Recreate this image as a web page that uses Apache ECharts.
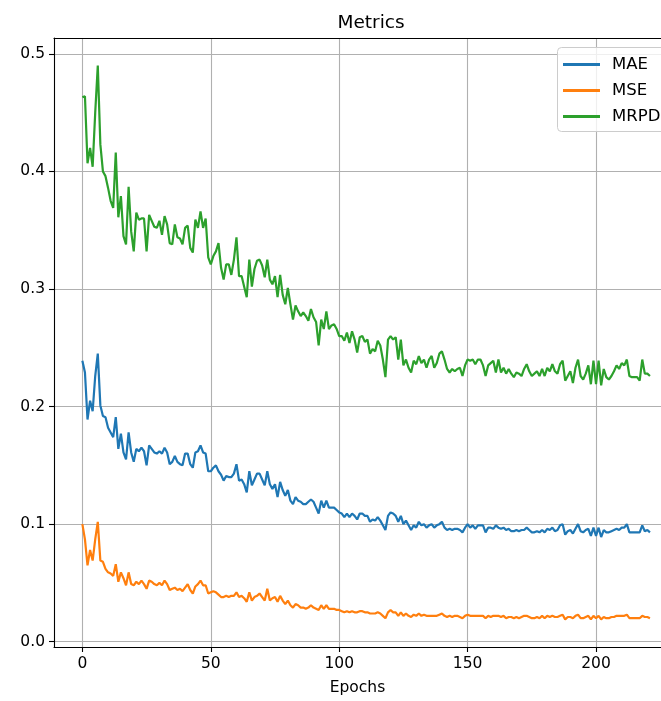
<!DOCTYPE html>
<html>
<head>
<meta charset="utf-8">
<script src="https://cdn.jsdelivr.net/npm/echarts@6/dist/echarts.min.js"></script>
<style>
  html, body { margin: 0; padding: 0; background: #fff; }
  #chart { width: 661px; height: 701px; }
</style>
</head>
<body>
<div id="chart"></div>
<script>
// Training metrics per epoch
const mae = [
  0.239, 0.229, 0.189, 0.205, 0.196, 0.226, 0.245, 0.201, 0.192, 0.191,
  0.182, 0.178, 0.174, 0.191, 0.164, 0.177, 0.161, 0.155, 0.178, 0.161,
  0.153, 0.164, 0.162, 0.165, 0.162, 0.150, 0.167, 0.164, 0.161, 0.160,
  0.162, 0.160, 0.165, 0.161, 0.151, 0.153, 0.158, 0.153, 0.151, 0.150,
  0.160, 0.160, 0.151, 0.148, 0.161, 0.162, 0.167, 0.161, 0.160, 0.145,
  0.145, 0.148, 0.150, 0.145, 0.142, 0.137, 0.141, 0.140, 0.140, 0.143,
  0.151, 0.137, 0.138, 0.134, 0.127, 0.145, 0.133, 0.138, 0.143, 0.143,
  0.138, 0.133, 0.145, 0.134, 0.130, 0.134, 0.123, 0.136, 0.129, 0.124,
  0.129, 0.120, 0.117, 0.123, 0.120, 0.119, 0.117, 0.117, 0.119, 0.121,
  0.119, 0.114, 0.109, 0.120, 0.114, 0.120, 0.114, 0.114, 0.114, 0.112,
  0.110, 0.109, 0.106, 0.109, 0.106, 0.109, 0.107, 0.104, 0.109, 0.109,
  0.107, 0.107, 0.102, 0.104, 0.103, 0.106, 0.103, 0.099, 0.095, 0.107,
  0.110, 0.109, 0.107, 0.102, 0.107, 0.100, 0.103, 0.099, 0.095, 0.099,
  0.097, 0.102, 0.099, 0.100, 0.097, 0.099, 0.100, 0.097, 0.099, 0.100,
  0.102, 0.097, 0.095, 0.096, 0.095, 0.096, 0.096, 0.095, 0.093, 0.097,
  0.100, 0.097, 0.099, 0.096, 0.099, 0.099, 0.099, 0.093, 0.097, 0.097,
  0.096, 0.099, 0.097, 0.096, 0.097, 0.095, 0.096, 0.094, 0.094, 0.095,
  0.094, 0.095, 0.095, 0.097, 0.095, 0.093, 0.093, 0.094, 0.093, 0.095,
  0.093, 0.096, 0.095, 0.097, 0.094, 0.095, 0.099, 0.100, 0.091, 0.094,
  0.095, 0.092, 0.096, 0.100, 0.094, 0.093, 0.095, 0.096, 0.090, 0.097,
  0.090, 0.097, 0.089, 0.095, 0.093, 0.093, 0.094, 0.095, 0.096, 0.095,
  0.097, 0.097, 0.100, 0.093, 0.093, 0.093, 0.093, 0.093, 0.099, 0.094,
  0.095, 0.093
];

const mse = [
  0.100, 0.087, 0.065, 0.078, 0.069, 0.087, 0.102, 0.069, 0.068, 0.062,
  0.059, 0.058, 0.056, 0.066, 0.051, 0.059, 0.054, 0.048, 0.059, 0.049,
  0.048, 0.051, 0.049, 0.052, 0.049, 0.045, 0.052, 0.051, 0.049, 0.048,
  0.050, 0.048, 0.052, 0.049, 0.044, 0.045, 0.046, 0.044, 0.045, 0.043,
  0.046, 0.049, 0.044, 0.041, 0.047, 0.049, 0.052, 0.048, 0.048, 0.041,
  0.042, 0.043, 0.042, 0.040, 0.038, 0.038, 0.039, 0.038, 0.039, 0.039,
  0.042, 0.038, 0.039, 0.037, 0.034, 0.042, 0.035, 0.038, 0.039, 0.041,
  0.038, 0.035, 0.045, 0.035, 0.037, 0.038, 0.034, 0.039, 0.035, 0.032,
  0.035, 0.031, 0.029, 0.032, 0.031, 0.029, 0.029, 0.028, 0.029, 0.031,
  0.029, 0.028, 0.027, 0.031, 0.028, 0.031, 0.028, 0.028, 0.028, 0.027,
  0.027, 0.026, 0.025, 0.026, 0.025, 0.026, 0.025, 0.025, 0.026, 0.026,
  0.025, 0.025, 0.024, 0.024, 0.024, 0.025, 0.024, 0.022, 0.020, 0.025,
  0.027, 0.025, 0.025, 0.022, 0.025, 0.022, 0.024, 0.022, 0.021, 0.023,
  0.022, 0.024, 0.022, 0.023, 0.022, 0.022, 0.022, 0.022, 0.022, 0.023,
  0.024, 0.022, 0.021, 0.022, 0.021, 0.022, 0.022, 0.021, 0.020, 0.022,
  0.023, 0.022, 0.022, 0.022, 0.022, 0.022, 0.022, 0.020, 0.022, 0.021,
  0.022, 0.022, 0.022, 0.021, 0.022, 0.020, 0.021, 0.021, 0.020, 0.021,
  0.020, 0.021, 0.022, 0.022, 0.021, 0.020, 0.020, 0.021, 0.020, 0.022,
  0.020, 0.022, 0.021, 0.022, 0.021, 0.021, 0.022, 0.023, 0.019, 0.021,
  0.021, 0.020, 0.022, 0.023, 0.020, 0.020, 0.021, 0.022, 0.019, 0.022,
  0.020, 0.022, 0.019, 0.021, 0.020, 0.020, 0.021, 0.021, 0.022, 0.022,
  0.022, 0.022, 0.023, 0.020, 0.020, 0.020, 0.020, 0.020, 0.022, 0.021,
  0.021, 0.020
];

const mrpd = [
  0.463, 0.464, 0.407, 0.420, 0.404, 0.450, 0.490, 0.423, 0.400, 0.396,
  0.386, 0.375, 0.369, 0.416, 0.361, 0.379, 0.345, 0.338, 0.387, 0.349,
  0.332, 0.365, 0.359, 0.360, 0.360, 0.332, 0.363, 0.358, 0.353, 0.352,
  0.358, 0.346, 0.362, 0.355, 0.339, 0.338, 0.355, 0.344, 0.343, 0.338,
  0.352, 0.354, 0.335, 0.331, 0.359, 0.352, 0.366, 0.352, 0.360, 0.327,
  0.321, 0.328, 0.332, 0.339, 0.318, 0.308, 0.321, 0.321, 0.312, 0.325,
  0.344, 0.311, 0.311, 0.302, 0.293, 0.325, 0.302, 0.317, 0.324, 0.325,
  0.320, 0.310, 0.325, 0.308, 0.304, 0.311, 0.293, 0.312, 0.295, 0.287,
  0.301, 0.287, 0.274, 0.286, 0.281, 0.277, 0.280, 0.277, 0.273, 0.283,
  0.276, 0.272, 0.252, 0.274, 0.266, 0.281, 0.266, 0.269, 0.270, 0.266,
  0.260, 0.260, 0.256, 0.263, 0.254, 0.264, 0.257, 0.246, 0.259, 0.260,
  0.255, 0.257, 0.245, 0.249, 0.247, 0.256, 0.252, 0.240, 0.225, 0.257,
  0.260, 0.257, 0.259, 0.240, 0.257, 0.235, 0.240, 0.233, 0.229, 0.239,
  0.236, 0.243, 0.237, 0.240, 0.233, 0.240, 0.243, 0.233, 0.237, 0.245,
  0.247, 0.240, 0.232, 0.229, 0.232, 0.230, 0.232, 0.233, 0.226, 0.235,
  0.240, 0.239, 0.240, 0.236, 0.240, 0.240, 0.235, 0.226, 0.235, 0.237,
  0.239, 0.229, 0.240, 0.229, 0.233, 0.228, 0.232, 0.228, 0.225, 0.229,
  0.228, 0.226, 0.232, 0.236, 0.230, 0.226, 0.228, 0.230, 0.226, 0.232,
  0.226, 0.233, 0.230, 0.236, 0.230, 0.228, 0.236, 0.239, 0.222, 0.226,
  0.230, 0.220, 0.233, 0.240, 0.226, 0.223, 0.228, 0.235, 0.219, 0.239,
  0.219, 0.239, 0.218, 0.232, 0.225, 0.223, 0.226, 0.230, 0.235, 0.232,
  0.237, 0.235, 0.240, 0.226, 0.225, 0.225, 0.225, 0.222, 0.240, 0.228,
  0.228, 0.226
];

const xTicks = [0, 50, 100, 150, 200];
const yTicks = [0.0, 0.1, 0.2, 0.3, 0.4, 0.5];

const epochs = mae.map((_, i) => i);
const pairs = (vals) => epochs.map((e, i) => [e, vals[i]]);

const FONT = 'DejaVu Sans';
const gridColor = '#b0b0b0';

const chart = echarts.init(document.getElementById('chart'), null, { renderer: 'canvas' });

const lineSeries = (name, vals, color, z) => ({
  name,
  type: 'line',
  data: pairs(vals),
  showSymbol: false,
  symbol: 'none',
  smooth: false,
  z,
  lineStyle: { color, width: 2.2 },
  itemStyle: { color },
  emphasis: { disabled: true },
  animation: false
});

// The axes box continues past the right edge of the canvas, so only
// the left, bottom and top spines are drawn; the legend frame is a
// separate rectangle so it can run off the edge as well.
chart.setOption({
  animation: false,
  title: {
    text: 'Metrics',
    left: 366,
    top: 9,
    textAlign: 'center',
    textStyle: { fontFamily: FONT, fontSize: 18.5, fontWeight: 'normal', color: '#000' }
  },
  graphic: [
    {
      type: 'rect',
      z: 50,
      silent: true,
      shape: { x: 557.5, y: 47.5, width: 140, height: 84, r: 4 },
      style: { fill: 'rgba(255,255,255,0.8)', stroke: '#cccccc', lineWidth: 1 }
    }
  ],
  legend: {
    orient: 'vertical',
    left: 557,
    top: 50,
    z: 60,
    padding: [6, 8, 6, 6],
    itemWidth: 37,
    itemHeight: 3,
    itemGap: 9,
    icon: 'rect',
    textStyle: { fontFamily: FONT, fontSize: 16.5, color: '#000', padding: [0, 0, 0, 7] },
    data: ['MAE', 'MSE', 'MRPD']
  },
  grid: {
    left: 54,
    right: 0,
    top: 38,
    bottom: 53.5,
    containLabel: false,
    show: false
  },
  xAxis: [
    {
      type: 'value',
      min: -11.05,
      max: 225.3,
      name: 'Epochs',
      nameLocation: 'middle',
      nameGap: 33,
      nameTextStyle: { fontFamily: FONT, fontSize: 15.5, color: '#000' },
      axisLine: { show: true, onZero: false, lineStyle: { color: '#000', width: 1.1 } },
      axisTick: { show: true, length: 5, customValues: xTicks, lineStyle: { color: '#000', width: 1.1 } },
      axisLabel: { customValues: xTicks, margin: 9, fontFamily: FONT, fontSize: 15.5, color: '#000' },
      splitLine: { show: true, lineStyle: { color: gridColor, width: 1.1 } }
    },
    {
      // top spine only
      type: 'value',
      position: 'top',
      min: -11.05,
      max: 225.3,
      axisLine: { show: true, onZero: false, lineStyle: { color: '#000', width: 1.1 } },
      axisTick: { show: false },
      axisLabel: { show: false },
      splitLine: { show: false }
    }
  ],
  yAxis: {
    type: 'value',
    min: -0.0045,
    max: 0.5135,
    axisLine: { show: true, onZero: false, lineStyle: { color: '#000', width: 1.1 } },
    axisTick: { show: true, length: 5, customValues: yTicks, lineStyle: { color: '#000', width: 1.1 } },
    axisLabel: {
      customValues: yTicks,
      margin: 9,
      fontFamily: FONT,
      fontSize: 15.5,
      color: '#000',
      formatter: (v) => v.toFixed(1)
    },
    splitLine: { show: true, lineStyle: { color: gridColor, width: 1.1 } }
  },
  series: [
    lineSeries('MAE', mae, '#1f77b4', 2),
    lineSeries('MSE', mse, '#ff7f0e', 3),
    lineSeries('MRPD', mrpd, '#2ca02c', 4)
  ]
});
</script>
</body>
</html>
